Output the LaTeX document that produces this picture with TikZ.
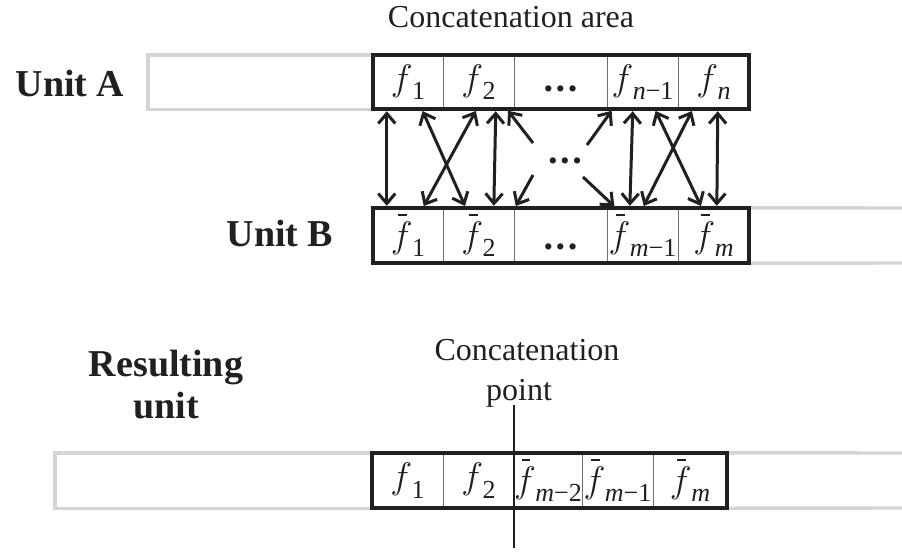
\RequirePackage{fix-cm}
\documentclass[tikz,border=0pt]{standalone}
\usepackage{fontspec}
\setmainfont{Liberation Serif}
\usetikzlibrary{arrows.meta}
\definecolor{ink}{HTML}{231F20}
\definecolor{shade}{HTML}{D4D4D4}
\definecolor{rule}{HTML}{6E6E6E}
% italic f with a lowered subscript, and the same with a bar
\newcommand{\ff}[1]{$f$\kern-0.5pt\raisebox{-0.26em}{\fontsize{26}{26}\selectfont #1}}
\newcommand{\fb}[1]{\makebox[0pt][l]{\kern0.2em\raisebox{0.84em}{\rule{0.24em}{0.05em}}}\ff{#1}}
\newcommand{\mi}{\char"2212\relax}
% a row of three dots, lowered by #1
\newcommand{\dotrow}[1]{\smash{\raisebox{-#1}{\fontsize{26}{26}\selectfont \textbullet\hspace{3pt}\textbullet\hspace{3pt}\textbullet}}}
\begin{document}
\begin{tikzpicture}[x=1pt,y=-1pt,
  txt/.style={font=\fontsize{32}{36}\selectfont, inner sep=0pt, anchor=base, text=ink},
  lbl/.style={font=\fontsize{38}{40}\selectfont\bfseries, inner sep=0pt, anchor=base, text=ink, align=center},
  cellA/.style={inner sep=0pt, minimum height=54pt, font=\fontsize{37}{38}\selectfont, text=ink},
  cellB/.style={inner sep=0pt, minimum height=55pt, font=\fontsize{37}{38}\selectfont, text=ink},
  frame/.style={draw=ink, line width=3.8pt},
  tail/.style={draw=shade, line width=3.4pt},
  divider/.style={draw=rule, line width=1pt},
  link/.style={draw=ink, line width=3pt, shorten <=2pt, shorten >=2pt,
    {Straight Barb[length=10pt,width=17pt]}-{Straight Barb[length=10pt,width=17pt]}},
  half/.style={draw=ink, line width=3pt, shorten >=2pt,
    -{Straight Barb[length=10pt,width=17pt]}},
]
\useasboundingbox (0,0) rectangle (902,552);
\clip (0,0) rectangle (902,552);

% ---------- Unit A ----------
\node[txt] (areaLbl) at (511,27) {Concatenation area};
\node[lbl] (unitA) at (70,96) {Unit A};
\node[cellA, minimum width=70pt] (a1) at (408,82)   {\ff{1}};
\node[cellA, minimum width=71pt] (a2) at (478.5,82) {\ff{2}};
\node[cellA, minimum width=93pt] (a3) at (560.5,82) {\dotrow{15pt}};
\node[cellA, minimum width=71pt] (a4) at (642.5,82) {\ff{\textit{n}\mi1}};
\node[cellA, minimum width=71pt] (a5) at (713.5,82) {\ff{\textit{n}}};
\draw[tail] (148,55) rectangle (a1.south west);
\foreach \c in {a1,a2,a3,a4} \draw[divider] (\c.north east) -- (\c.south east);
\draw[frame] (a1.north west) rectangle (a5.south east);

% ---------- Unit B ----------
\node[lbl] (unitB) at (280,246) {Unit B};
\node[cellB, minimum width=70pt] (b1) at (408,235.5)   {\fb{1}};
\node[cellB, minimum width=71pt] (b2) at (478.5,235.5) {\fb{2}};
\node[cellB, minimum width=93pt] (b3) at (560.5,235.5) {\dotrow{20pt}};
\node[cellB, minimum width=71pt] (b4) at (642.5,235.5) {\fb{\textit{m}\mi1}};
\node[cellB, minimum width=71pt] (b5) at (713.5,235.5) {\fb{\textit{m}}};
\draw[tail] (b5.north east) -- (910,208) (b5.south east) -- (910,263);
\foreach \c in {b1,b2,b3,b4} \draw[divider] (\c.north east) -- (\c.south east);
\draw[frame] (b1.north west) rectangle (b5.south east);

% ---------- links between the two units ----------
\draw[link] ([xshift=14pt]a1.south west) -- ([xshift=14pt]b1.north west);
\draw[link] ([xshift=49pt]a1.south west) -- ([xshift=23pt]b2.north west);
\draw[link] ([xshift=34pt]a2.south west) -- ([xshift=50pt]b1.north west);
\draw[link] ([xshift=53pt]a2.south west) -- ([xshift=51pt]b2.north west);
\coordinate (h1) at (533,143);
\coordinate (h2) at (533,175);
\coordinate (h3) at (587,145);
\coordinate (h4) at (583,177);
\draw[half] (h1) -- ([xshift=64pt]a2.south west);
\draw[half] (h2) -- ([xshift=1pt]b3.north west);
\draw[half] (h3) -- ([xshift=6pt]a4.south west);
\draw[half] (h4) -- ([xshift=9pt]b4.north west);
\node[text=ink, inner sep=0pt] (midDots) at (565,158) {\dotrow{11pt}};
\draw[link] ([xshift=26pt]a4.south west) -- ([xshift=23pt]b4.north west);
\draw[link] ([xshift=48pt]a4.south west) -- ([xshift=24pt]b5.north west);
\draw[link] ([xshift=15pt]a5.south west) -- ([xshift=36pt]b4.north west);
\draw[link] ([xshift=40pt]a5.south west) -- ([xshift=39pt]b5.north west);

% ---------- Resulting unit ----------
\node[lbl] (resLbl1) at (166,376) {Resulting};
\node[lbl] (resLbl2) at (166,418) {unit};
\node[txt] (cpLbl1) at (527,360) {Concatenation};
\node[txt] (cpLbl2) at (519,400) {point};
\node[cellB, minimum width=71pt] (r1) at (407.5,480.5) {\ff{1}};
\node[cellB, minimum width=71pt] (r2) at (478.5,480.5) {\ff{2}};
\node[cellB, minimum width=68pt] (r3) at (548,480.5)   {\fb{\textit{m}\mi2}};
\node[cellB, minimum width=71pt] (r4) at (617.5,480.5) {\fb{\textit{m}\mi1}};
\node[cellB, minimum width=74pt] (r5) at (690,480.5)   {\fb{\textit{m}}};
\draw[tail] (55,453) rectangle (r1.south west);
\draw[tail] (r5.north east) -- (910,453) (r5.south east) -- (910,508);
\foreach \c in {r1,r3,r4} \draw[divider] (\c.north east) -- (\c.south east);
\draw[frame] (r1.north west) rectangle (r5.south east);
\coordinate (cpTop) at (514,405);
\coordinate (cpBot) at (514,548);
\draw[draw=ink, line width=1.6pt] (cpTop) -- (cpBot);
\end{tikzpicture}
\end{document}
